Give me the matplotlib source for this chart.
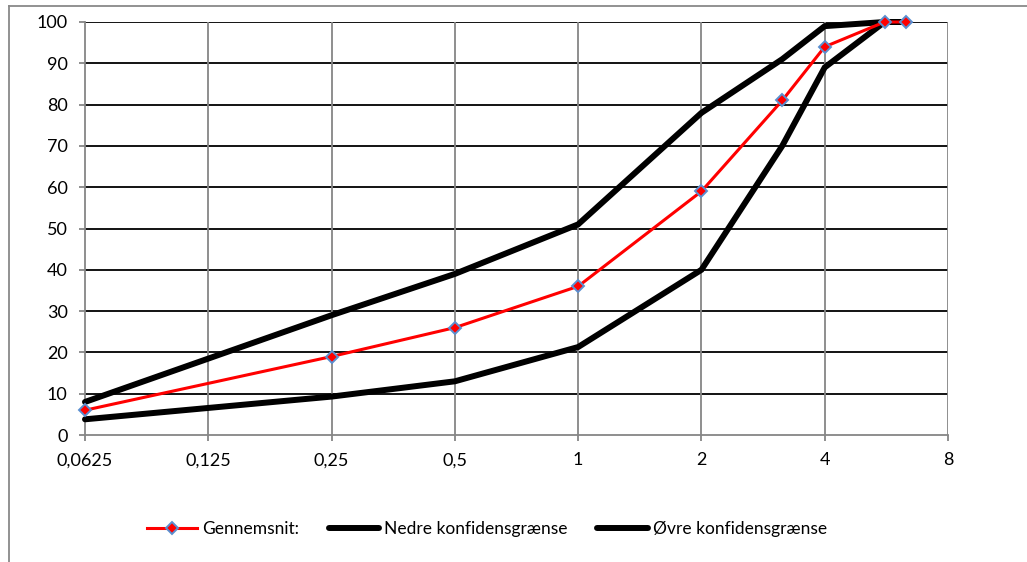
import matplotlib.pyplot as plt
from matplotlib.lines import Line2D

# Kornstørrelser (mm) og gennemsnit / konfidensgrænser (%)
sigter = [0.0625, 0.25, 0.5, 1, 2, 3.15, 4, 5.6, 6.3]
gennemsnit = [6, 19, 26, 36, 59, 81, 94, 100, 100]
nedre = [3.8, 9.3, 13, 21.3, 40, 70, 89, 100, 100]
oevre = [8, 29, 39, 51, 78, 91, 99, 100, 100]

x_ticks = [0.0625, 0.125, 0.25, 0.5, 1, 2, 4, 8]
x_labels = ["0,0625", "0,125", "0,25", "0,5", "1", "2", "4", "8"]
y_ticks = list(range(0, 101, 10))

plt.rcParams['font.family'] = ['Lato', 'DejaVu Sans']

W, H = 1027, 562
fig = plt.figure(figsize=(W / 100, H / 100), dpi=100)
ax = fig.add_axes([85 / W, 1 - 435 / H, (948 - 85) / W, (435 - 22) / H])

ax.set_xscale('log', base=2)
ax.set_xlim(0.0625, 8)
ax.set_ylim(0, 100)

# gitterlinjer
for y in y_ticks[1:]:
    ax.axhline(y, color='black', lw=1.3, zorder=1)
for x in x_ticks[1:]:
    ax.axvline(x, color='#868686', lw=1.3, zorder=1)

ax.plot(sigter, nedre, color='black', lw=4.3, label='Nedre konfidensgrænse',
        zorder=3, clip_on=False, solid_joinstyle='miter', solid_capstyle='round')
ax.plot(sigter, oevre, color='black', lw=4.3, label='Øvre konfidensgrænse',
        zorder=3, clip_on=False, solid_joinstyle='miter', solid_capstyle='round')
ax.plot(sigter, gennemsnit, color='#ff0000', lw=2.2, marker='D', markersize=6.5,
        markerfacecolor='#ff0000', markeredgecolor='#5b8fd0', markeredgewidth=1.4,
        label='Gennemsnit:', zorder=4, clip_on=False)

ax.set_xticks(x_ticks)
ax.set_xticklabels(x_labels)
ax.minorticks_off()
ax.set_yticks(y_ticks)

for s in ['top', 'right']:
    ax.spines[s].set_visible(False)
for s in ['left', 'bottom']:
    ax.spines[s].set_color('#868686')
    ax.spines[s].set_linewidth(1.3)

ax.tick_params(axis='y', length=4.5, width=1.3, color='#868686', pad=8, labelsize=13)
ax.tick_params(axis='x', length=4.5, width=1.3, color='#868686', pad=8, labelsize=13)

handles, labels = ax.get_legend_handles_labels()
order = [2, 0, 1]
fig.legend([handles[i] for i in order], [labels[i] for i in order],
           loc='center', bbox_to_anchor=(487 / W, 1 - 529 / H), ncol=3,
           frameon=False, fontsize=12.5, handlelength=2.9, handletextpad=0.3,
           columnspacing=1.7)

# ydre ramme
fig.add_artist(Line2D([9 / W, 9 / W], [0, 1 - 6 / H], color='#898989', lw=1.3,
                      transform=fig.transFigure))
fig.add_artist(Line2D([9 / W, 1], [1 - 6 / H, 1 - 6 / H], color='#898989', lw=1.3,
                      transform=fig.transFigure))

fig.savefig('out.png', dpi=100)
